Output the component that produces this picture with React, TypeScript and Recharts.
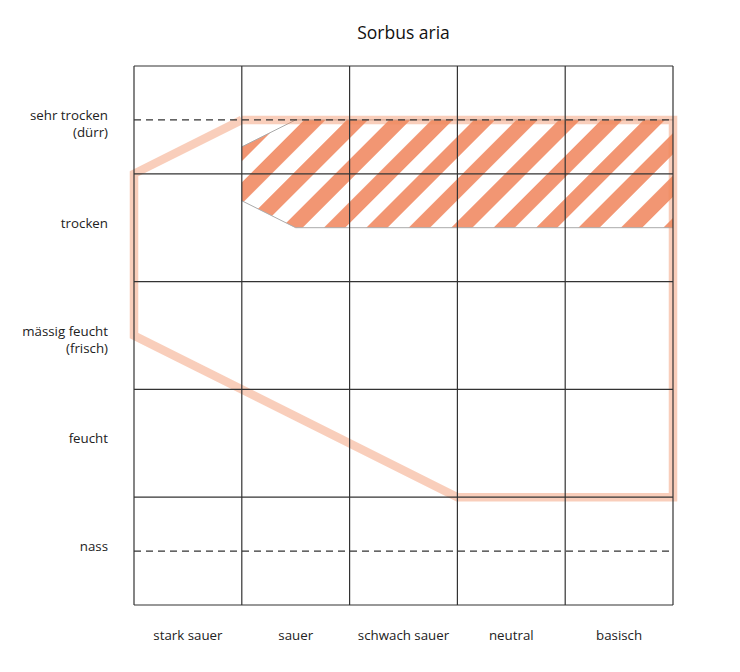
import { ComposedChart, XAxis, YAxis, Line, Area, ReferenceLine } from 'recharts';

const reactionLabels = ['stark sauer', 'sauer', 'schwach sauer', 'neutral', 'basisch'];
const moistureLabels = [
  ['sehr trocken', '(dürr)'],
  ['trocken'],
  ['mässig feucht', '(frisch)'],
  ['feucht'],
  ['nass'],
];

// outer range (light outline), x = reaction, y = moisture (0 = top)
const rangeX = [1, 5, 5, 3, 0, 0, 1];
const rangeY = [0.5, 0.5, 4, 4, 2.5, 1, 0.5];

// optimum (hatched), y given as [top, bottom]
const optimumX = [1, 1.5, 5];
const optimumTop = [0.75, 0.5, 0.5];
const optimumBottom = [1.25, 1.5, 1.5];

const dashedRows = [0.5, 4.5];

const rangeData = rangeX.map((x, i) => ({ x, y: rangeY[i] }));
const optimumData = optimumX.map((x, i) => ({ x, band: [optimumTop[i], optimumBottom[i]] }));

const font = '"Open Sans", sans-serif';

const MoistureTick = (props: any) => {
  const { x, y, payload } = props;
  const lines = moistureLabels[Math.floor(payload.value)] || [];
  return (
    <text x={x} y={y} textAnchor="end" fontFamily={font} fontSize={13.3} fill="#222">
      {lines.map((l, i) => (
        <tspan key={i} x={x} y={y + 17.5 * i}>
          {l}
        </tspan>
      ))}
    </text>
  );
};

export default function App() {
  const cols = reactionLabels.map((_, i) => i + 0.5);
  const rows = moistureLabels.map((_, i) => i + 0.5);
  const gridX = [0, ...reactionLabels.map((_, i) => i + 1)];
  const gridY = [0, ...moistureLabels.map((_, i) => i + 1)];

  return (
    <div style={{ position: 'absolute', left: 0, top: 0, width: 740, height: 672, background: '#fff' }}>
      <div
        style={{
          position: 'absolute',
          left: 134,
          width: 539,
          top: 20,
          textAlign: 'center',
          fontFamily: font,
          fontSize: 17.5,
          color: '#111',
        }}
      >
        Sorbus aria
      </div>
      <ComposedChart width={740} height={672} margin={{ top: 66, right: 67, left: 34, bottom: 17 }}>
        <defs>
          <pattern id="hatch" width="30" height="30" patternUnits="userSpaceOnUse" patternTransform="rotate(45)">
            <rect x="0" y="0" width="15" height="30" fill="#f0845a" fillOpacity={0.85} />
          </pattern>
        </defs>
        <XAxis
          type="number"
          dataKey="x"
          domain={[0, 5]}
          ticks={cols}
          tickFormatter={(v: number) => reactionLabels[Math.floor(v)]}
          axisLine={false}
          tickLine={false}
          tickSize={0}
          tickMargin={26}
          height={50}
          allowDuplicatedCategory={false}
          tick={{ fontFamily: font, fontSize: 13.3, fill: '#222' }}
        />
        <YAxis
          type="number"
          domain={[0, 5]}
          reversed
          ticks={rows}
          axisLine={false}
          tickLine={false}
          tickSize={0}
          tickMargin={26}
          width={100}
          tick={<MoistureTick />}
        />
        <Area
          data={optimumData}
          dataKey="band"
          type="linear"
          fill="url(#hatch)"
          fillOpacity={1}
          stroke="#aaa"
          strokeWidth={1}
          isAnimationActive={false}
          dot={false}
          activeDot={false}
        />
        <Line
          data={rangeData}
          dataKey="y"
          type="linear"
          stroke="#f08a5d"
          strokeOpacity={0.42}
          strokeWidth={8.5}
          strokeLinejoin="miter"
          dot={false}
          activeDot={false}
          isAnimationActive={false}
        />
        {gridX.map((v) => (
          <ReferenceLine key={'gx' + v} x={v} stroke="#333" strokeWidth={1.2} />
        ))}
        {gridY.map((v) => (
          <ReferenceLine key={'gy' + v} y={v} stroke="#333" strokeWidth={1.2} />
        ))}
        {dashedRows.map((v) => (
          <ReferenceLine key={'d' + v} y={v} stroke="#333" strokeWidth={1.2} strokeDasharray="7 5" />
        ))}
      </ComposedChart>
    </div>
  );
}
